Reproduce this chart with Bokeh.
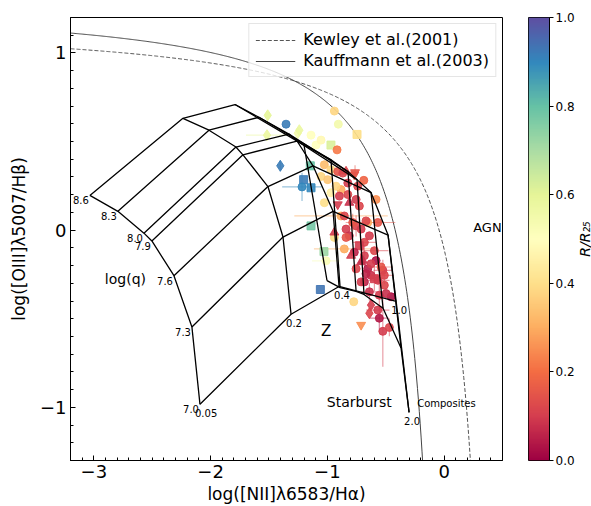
import numpy as np
from bokeh.plotting import figure
from bokeh.models import (ColumnDataSource, LinearColorMapper, Range1d, Label,
                          Legend, LegendItem, FixedTicker)
from bokeh.transform import transform
from bokeh.layouts import row
from bokeh.embed import file_html
from bokeh.resources import INLINE
from bokeh.core.properties import value

FONT = "DejaVu Sans"

# ---------------- photoionisation grid nodes (log q = 8.6 ... 7.0) ----------------
q_labels = ["8.6", "8.3", "8.0", "7.9", "7.6", "7.3", "7.0"]
z_labels = ["0.05", "0.2", "0.4", "1.0", "2.0"]
z005_x = [-3.034, -2.794, -2.571, -2.503, -2.314, -2.160, -2.091]
z005_y = [0.196, 0.106, -0.017, -0.061, -0.257, -0.547, -0.983]
z02_x = [-2.237, -2.014, -1.783, -1.723, -1.509, -1.380, -1.311]
z02_y = [0.631, 0.564, 0.469, 0.425, 0.246, -0.039, -0.475]
z04_x = [-1.791, -1.586, -1.329, -1.260, -1.123, -0.951, -0.900]
z04_y = [0.709, 0.637, 0.542, 0.503, 0.363, 0.106, -0.318]
z10_x = [-1.200, -0.969, -0.823, -0.746, -0.626, -0.480, -0.411]
z10_y = [0.480, 0.397, 0.330, 0.285, 0.212, -0.028, -0.402]
z20_x = [-1.003, -0.891, -0.754, -0.686, -0.523, -0.369, -0.300]
z20_y = [-0.285, -0.324, -0.346, -0.363, -0.441, -0.665, -1.028]

# ---------------- observed regions ----------------
pts_x = [-1.511, -1.517, -1.354, -1.254, -1.403, -1.203, -1.217, -1.140, -1.060, -1.146,
         -1.140, -1.029, -1.011, -0.969, -1.097, -0.906, -1.240, -1.140, -1.054,
         -0.940, -0.746, -0.917, -1.054, -0.997, -0.883, -0.654, -0.855, -0.774, -0.711,
         -0.883, -1.026, -0.969, -0.940, -0.583, -0.926, -1.026, -0.969,
         -0.763, -0.840, -0.688, -0.911, -0.825, -0.754, -0.911, -0.568, -0.754, -0.840,
         -0.940, -0.812, -0.683, -0.726, -0.769, -0.683, -0.711, -0.654, -0.583, -0.525,
         -0.626, -0.683, -0.568, -0.512, -0.640, -0.555, -0.626, -0.568, -0.640, -0.555,
         -0.525, -0.454, -0.469, -0.868, -0.769, -0.825, -0.740, -0.897, -0.812, -0.726,
         -0.855, -0.783, -0.669, -0.711, -0.640, -0.840, -0.597, -0.797, -0.697, -0.626,
         -0.540, -0.754, -0.669, -0.597, -0.512, -0.711, -0.497]
pts_y = [0.648, 0.536, 0.598, 0.547, 0.363, 0.285, 0.244, 0.239, -0.335, 0.363,
         0.024, -0.121, -0.173, 0.480, 0.480, 0.598, 0.564, 0.536, 0.508,
         0.672, 0.540, 0.453, 0.303, 0.285, 0.229, 0.043, -0.106, -0.404, -0.535,
         0.080, 0.155, 0.211, -0.041, 0.173, 0.248, 0.369, 0.341,
         0.326, 0.331, 0.281, 0.331, 0.201, 0.173, 0.145, 0.043, 0.024, 0.006,
         -0.013, -0.032, -0.069, -0.088, -0.125, -0.144, -0.180, -0.218, -0.172, -0.227,
         -0.255, -0.292, -0.283, -0.311, -0.348, -0.367, -0.423, -0.451, -0.469, -0.497,
         -0.571, -0.376, -0.549, 0.322, 0.313, 0.266, 0.248, 0.192, 0.155, 0.136,
         0.080, 0.043, 0.052, 0.006, -0.032, -0.041, -0.116, -0.144, -0.172, -0.190,
         -0.208, -0.218, -0.246, -0.274, -0.255, -0.292, -0.358]
pts_r = [0.60, 0.58, 0.92, 0.55, 0.92, 0.92, 0.90, 0.90, 0.93, 0.80,
         0.78, 0.72, 0.52, 0.62, 0.50, 0.55, 0.58, 0.50, 0.48,
         0.38, 0.40, 0.22, 0.38, 0.35, 0.30, 0.30, 0.30, 0.38, 0.25,
         0.30, 0.40, 0.45, 0.40, 0.25, 0.38, 0.33, 0.38,
         0.15, 0.12, 0.18, 0.15, 0.12, 0.10, 0.10, 0.15, 0.12, 0.10,
         0.10, 0.08, 0.12, 0.10, 0.06, 0.10, 0.08, 0.05, 0.03, 0.10,
         0.08, 0.06, 0.10, 0.12, 0.08, 0.10, 0.10, 0.10, 0.12, 0.04,
         0.10, 0.03, 0.12, 0.12, 0.15, 0.10, 0.12, 0.10, 0.08, 0.12,
         0.12, 0.15, 0.12, 0.10, 0.10, 0.15, 0.12, 0.10, 0.08, 0.10,
         0.15, 0.12, 0.06, 0.10, 0.12, 0.10, 0.08]
pts_marker = ["diamond", "diamond", "circle", "diamond", "diamond", "square", "circle", "square", "square", "square",
              "square", "square", "circle", "square", "circle", "circle", "diamond", "circle", "circle",
              "circle", "square", "circle", "circle", "circle", "circle", "circle", "circle", "circle", "inverted_triangle",
              "circle", "circle", "circle", "circle", "circle", "circle", "circle", "circle",
              "inverted_triangle", "triangle", "circle", "circle", "circle", "circle", "inverted_triangle", "circle", "circle", "circle",
              "triangle", "circle", "circle", "square", "circle", "circle", "triangle", "circle", "circle", "circle",
              "circle", "circle", "circle", "circle", "circle", "circle", "diamond", "circle", "diamond", "circle",
              "circle", "circle", "circle", "circle", "inverted_triangle", "circle", "circle", "circle", "triangle", "circle",
              "circle", "circle", "circle", "circle", "circle", "circle", "circle", "triangle", "triangle", "circle",
              "circle", "circle", "circle", "square", "circle", "circle", "circle"]
pts_xerr = [0, 0.18, 0, 0, 0, 0, 0.17, 0, 0, 0,
            0, 0, 0.12, 0, 0, 0, 0, 0, 0,
            0, 0, 0, 0, 0, 0, 0.08, 0.26, 0, 0,
            0.40, 0, 0, 0, 0, 0, 0, 0,
            0, 0, 0, 0, 0, 0, 0, 0.15, 0, 0,
            0, 0, 0.10, 0, 0, 0, 0, 0, 0, 0.08,
            0, 0, 0.10, 0, 0.07, 0, 0, 0.10, 0, 0.08,
            0, 0, 0, 0, 0, 0, 0, 0, 0, 0,
            0, 0.06, 0, 0, 0, 0, 0.12, 0, 0, 0,
            0.10, 0, 0, 0, 0.08, 0, 0]
pts_yerr = [0, 0, 0, 0, 0.03, 0, 0.08, 0, 0, 0,
            0, 0, 0, 0, 0, 0, 0, 0, 0,
            0, 0, 0, 0, 0, 0, 0, 0, 0, 0,
            0, 0, 0, 0, 0, 0, 0, 0,
            0.04, 0, 0, 0, 0, 0, 0, 0, 0.06, 0,
            0, 0, 0, 0, 0, 0.06, 0, 0, 0, 0.06,
            0, 0, 0, 0, 0.05, 0.08, 0, 0, 0, 0.07,
            0.20, 0, 0.05, 0, 0, 0, 0, 0, 0, 0,
            0, 0.05, 0, 0, 0, 0, 0, 0, 0, 0,
            0, 0, 0, 0.07, 0.05, 0, 0]

region_text = ["AGN", "Starburst", "Composites", "Z", "log(q)"]
region_x = [0.249, -1.005, -0.231, -1.011, -2.906]
region_y = [0.017, -0.972, -0.978, -0.570, -0.274]

x_ticks = [-3, -2, -1, 0]
y_ticks = [-1, 0, 1]
cb_ticks = [0.0, 0.2, 0.4, 0.6, 0.8, 1.0]
cb_title = "R/R\u2082\u2085"

# ---------------- colour map (matplotlib 'Spectral') ----------------
anchors = ["#9e0142", "#d53e4f", "#f46d43", "#fdae61", "#fee08b", "#ffffbf",
           "#e6f598", "#abdda4", "#66c2a5", "#3288bd", "#5e4fa2"]
argb = np.array([[int(c[i:i + 2], 16) for i in (1, 3, 5)] for c in anchors], float)
pos = np.linspace(0, 1, len(anchors))
tt = np.linspace(0, 1, 256)
pal = ["#%02x%02x%02x" % tuple(int(round(np.interp(t, pos, argb[:, k]))) for k in range(3)) for t in tt]
mapper = LinearColorMapper(palette=pal, low=0, high=1)

# ---------------- main figure ----------------
p = figure(width=513, height=506, x_range=Range1d(-3.2, 0.5), y_range=Range1d(-1.3, 1.2),
           toolbar_location=None, output_backend="svg",
           min_border_left=70, min_border_right=11, min_border_top=17, min_border_bottom=44)
p.grid.visible = False
p.outline_line_color = "black"
p.outline_line_width = 1
p.background_fill_color = "white"

for ax in (p.xaxis[0], p.yaxis[0]):
    ax.major_tick_in = 5
    ax.major_tick_out = 0
    ax.minor_tick_in = 3
    ax.minor_tick_out = 0
    ax.axis_line_color = "black"
    ax.major_tick_line_color = "black"
    ax.minor_tick_line_color = "black"
    ax.major_label_text_font = FONT
    ax.major_label_text_font_size = "18px"
    ax.major_label_text_color = "black"
    ax.axis_label_text_font = FONT
    ax.axis_label_text_font_size = "17px"
    ax.axis_label_text_font_style = "normal"
    ax.axis_label_text_color = "black"
    ax.major_label_standoff = 4

p.xaxis.ticker = FixedTicker(ticks=x_ticks, minor_ticks=[round(v, 2) for v in np.arange(-3.2, 0.51, 0.1)])
p.yaxis.ticker = FixedTicker(ticks=y_ticks, minor_ticks=[round(v, 2) for v in np.arange(-1.3, 1.21, 0.1)])
p.xaxis.major_label_overrides = {t: ("\u2212" + str(abs(t)) if t < 0 else str(t)) for t in x_ticks}
p.yaxis.major_label_overrides = {t: ("\u2212" + str(abs(t)) if t < 0 else str(t)) for t in y_ticks}
p.xaxis.axis_label = "log([NII]\u03bb6583/H\u03b1)"
p.yaxis.axis_label = "log([OIII]\u03bb5007/H\u03b2)"
p.xaxis.axis_label_standoff = 3
p.yaxis.axis_label_standoff = 8

# demarcation curves
kx = np.linspace(-3.2, 0.3, 400)
ky = 0.61 / (kx - 0.47) + 1.19
fx = np.linspace(-3.2, -0.12, 400)
fy = 0.61 / (fx - 0.05) + 1.3
r_kew = p.line(kx, ky, line_color="#555555", line_width=1, line_dash="4 2")
r_kau = p.line(fx, fy, line_color="#444444", line_width=1)

# points: error bars then markers
n = len(pts_x)
ex0, ex1, ey0, ey1, er = [], [], [], [], []
for i in range(n):
    if pts_xerr[i] > 0:
        ex0.append(pts_x[i] - pts_xerr[i]); ex1.append(pts_x[i] + pts_xerr[i])
        ey0.append(pts_y[i]); ey1.append(pts_y[i]); er.append(pts_r[i])
    if pts_yerr[i] > 0:
        ex0.append(pts_x[i]); ex1.append(pts_x[i])
        ey0.append(pts_y[i] - pts_yerr[i]); ey1.append(pts_y[i] + pts_yerr[i]); er.append(pts_r[i])
esrc = ColumnDataSource(dict(x0=ex0, x1=ex1, y0=ey0, y1=ey1, r=er))
p.segment(x0="x0", y0="y0", x1="x1", y1="y1", source=esrc,
          line_color=transform("r", mapper), line_alpha=0.5, line_width=1.2)

size_of = {"circle": 8, "square": 8, "diamond": 11, "triangle": 9, "inverted_triangle": 9}
src = ColumnDataSource(dict(x=pts_x, y=pts_y, r=pts_r, m=pts_marker,
                            s=[size_of[m] for m in pts_marker]))
p.scatter(x="x", y="y", marker="m", size="s", source=src,
          fill_color=transform("r", mapper), line_color=transform("r", mapper),
          fill_alpha=0.9, line_alpha=0.9)

# grid lines
zx = [z005_x, z02_x, z04_x, z10_x, z20_x]
zy = [z005_y, z02_y, z04_y, z10_y, z20_y]
for xs, ys in zip(zx, zy):
    p.line(xs, ys, line_color="black", line_width=1.3)
for j in range(len(q_labels)):
    p.line([xs[j] for xs in zx], [ys[j] for ys in zy], line_color="black", line_width=1.3)

p.text(x=z005_x, y=z005_y, text=q_labels, text_font=value(FONT), text_font_size="10px",
       text_align="right", text_baseline="top", x_offset=-1, y_offset=1, text_color="black")
p.text(x=[xs[-1] for xs in zx], y=[ys[-1] for ys in zy], text=z_labels, text_font=value(FONT),
       text_font_size="10px", text_align="left", text_baseline="top", x_offset=-5, y_offset=5,
       text_color="black")

reg_sizes = ["13px", "14px", "10px", "15px", "14px"]
reg_align = ["left", "left", "left", "center", "left"]
for t, x, y, fs, al in zip(region_text, region_x, region_y, reg_sizes, reg_align):
    p.add_layout(Label(x=x, y=y, text=t, text_font=FONT, text_font_size=fs, text_align=al,
                       text_baseline="middle", text_color="black"))

legend = Legend(items=[LegendItem(label="Kewley et al.(2001)", renderers=[r_kew]),
                       LegendItem(label="Kauffmann et al.(2003)", renderers=[r_kau])],
                location="top_right", label_text_font=FONT, label_text_font_size="16px",
                label_text_color="black",
                glyph_width=40, glyph_height=18, label_height=18, label_standoff=8,
                padding=6, spacing=2, margin=6, border_line_color="#cccccc",
                background_fill_alpha=0.8)
p.add_layout(legend)

# ---------------- colour bar figure ----------------
cb = figure(width=64, height=506, x_range=Range1d(0, 1), y_range=Range1d(0, 1),
            toolbar_location=None, output_backend="svg", x_axis_location=None,
            y_axis_location="right", min_border_left=15, min_border_right=26,
            min_border_top=17, min_border_bottom=44)
cb.grid.visible = False
cb.outline_line_color = "black"
grad = np.linspace(0, 1, 256).reshape(256, 1)
cb.image(image=[grad], x=0, y=0, dw=1, dh=1, color_mapper=mapper)
ya = cb.yaxis[0]
ya.ticker = FixedTicker(ticks=cb_ticks)
ya.major_label_overrides = {t: "%.1f" % t for t in cb_ticks}
ya.major_tick_out = 4
ya.major_tick_in = 0
ya.minor_tick_out = 0
ya.minor_tick_in = 0
ya.axis_line_color = "black"
ya.major_tick_line_color = "black"
ya.major_label_text_font = FONT
ya.major_label_text_font_size = "12px"
ya.major_label_text_color = "black"
ya.major_label_standoff = 2

# ---------------- colour bar title (its own narrow column) ----------------
tfig = figure(width=14, height=506, x_range=Range1d(0, 1), y_range=Range1d(0, 1),
              toolbar_location=None, output_backend="svg", x_axis_location=None,
              y_axis_location=None, min_border_left=0, min_border_right=0,
              min_border_top=17, min_border_bottom=44)
tfig.grid.visible = False
tfig.outline_line_color = None
tfig.text(x=[0.5], y=[0.5], text=[cb_title], angle=np.pi / 2, text_font=value(FONT),
          text_font_size="14px", text_font_style="italic", text_align="center",
          text_baseline="middle", text_color="black")

layout = row(p, cb, tfig)
open("out.html", "w").write(file_html(layout, INLINE))
